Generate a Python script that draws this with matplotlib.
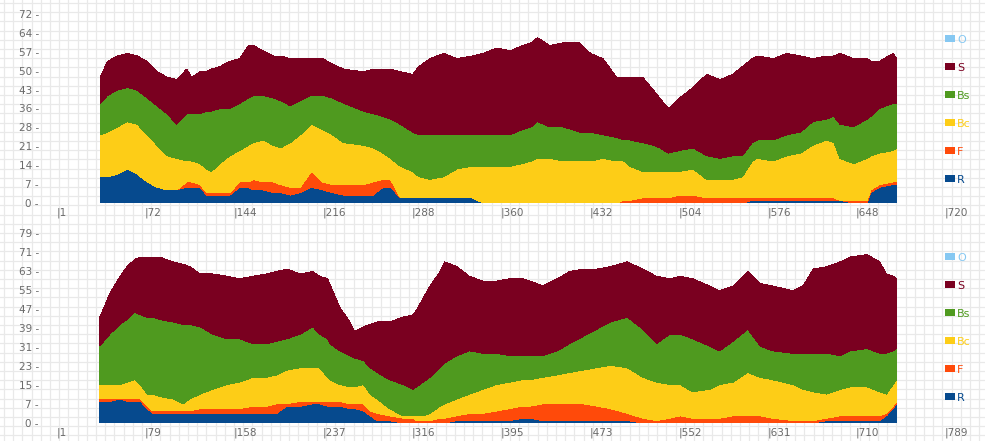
import numpy as np
import matplotlib
matplotlib.use("Agg")
import matplotlib.pyplot as plt
from matplotlib.patches import Patch

# series names and colours (legend order, top to bottom)
names = ["O", "S", "Bs", "Bc", "F", "R"]
colors = {"O": "#86c8f2", "S": "#7a0020", "Bs": "#4f9a1f",
          "Bc": "#fdcd17", "F": "#ff4a0a", "R": "#064a8e"}

# ---- top panel (1..720)
top_max_x, top_max_y = 720, 72
top_x = [36, 42, 50, 58, 66, 74, 82, 90, 98, 106,
         110, 117, 122, 126, 133, 141, 149, 156, 160, 168,
         176, 182, 190, 198, 207, 216, 224, 233, 249, 257,
         265, 271, 279, 289, 294, 303, 314, 325, 337, 346,
         357, 368, 378, 385, 390, 400, 411, 424, 433, 443,
         454, 460, 465, 475, 484, 489, 496, 505, 516, 527,
         538, 548, 556, 564, 568, 581, 592, 603, 613, 624,
         630, 635, 646, 657, 660, 667, 678, 681]
top_R = [10, 10, 11, 13, 11, 8, 6, 5, 5, 6,
         6, 6, 3, 3, 3, 3, 6, 6, 5, 5,
         4, 4, 3, 4, 6, 5, 4, 3, 3, 3,
         6, 6, 2, 2, 2, 2, 2, 2, 2, 0,
         0, 0, 0, 0, 0, 0, 0, 0, 0, 0,
         0, 0, 0, 0, 0, 0, 0, 0, 0, 0,
         0, 0, 0, 1, 1, 1, 1, 1, 1, 1,
         1, 1, 0, 0, 4, 6, 7, 7]
top_F = [0, 0, 0, 0, 0, 0, 0, 0, 0, 2,
         2, 1, 1, 1, 1, 1, 2, 2, 4, 3,
         4, 3, 3, 2, 6, 3, 3, 4, 4, 5,
         3, 3, 0, 0, 0, 0, 0, 0, 0, 0,
         0, 0, 0, 0, 0, 0, 0, 0, 0, 0,
         0, 1, 1, 2, 2, 2, 2, 3, 3, 2,
         2, 2, 2, 1, 1, 1, 1, 1, 1, 1,
         1, 0, 1, 1, 1, 1, 1, 1]
top_Bc = [16, 17, 18, 18, 19, 18, 16, 13, 12, 8,
          8, 8, 9, 8, 11, 14, 12, 14, 14, 16,
          14, 14, 17, 20, 18, 20, 19, 16, 15, 13,
          10, 8, 12, 10, 8, 7, 8, 11, 12, 14,
          14, 14, 15, 16, 17, 17, 16, 16, 16, 17,
          16, 15, 13, 10, 10, 10, 10, 9, 10, 7,
          7, 7, 8, 14, 15, 14, 16, 17, 20, 22,
          21, 16, 14, 16, 13, 12, 12, 13]
top_Bs = [12, 14, 14, 13, 13, 14, 15, 16, 13, 18,
          18, 19, 22, 23, 21, 18, 18, 18, 18, 17,
          18, 18, 14, 13, 11, 13, 14, 15, 13, 13,
          14, 15, 16, 15, 16, 17, 16, 13, 12, 12,
          12, 12, 13, 13, 14, 12, 13, 11, 11, 9,
          9, 8, 10, 11, 10, 9, 7, 8, 8, 9,
          8, 9, 8, 7, 7, 8, 8, 8, 9, 8,
          10, 13, 14, 15, 15, 17, 18, 17]
top_S = [10, 13, 13, 13, 13, 14, 13, 14, 17, 17,
         14, 16, 15, 16, 16, 18, 17, 20, 19, 17,
         16, 17, 18, 16, 14, 14, 13, 13, 15, 17,
         18, 19, 20, 22, 26, 29, 31, 29, 30, 31,
         33, 32, 32, 32, 32, 31, 32, 34, 30, 29,
         23, 24, 24, 25, 21, 19, 17, 20, 23, 31,
         30, 31, 34, 32, 32, 31, 31, 29, 24, 24,
         23, 27, 26, 23, 21, 18, 19, 17]

# ---- bottom panel (1..789)
bot_max_x, bot_max_y = 789, 79
bot_x = [39, 48, 57, 63, 70, 75, 81, 86, 92, 104,
         113, 119, 128, 139, 152, 163, 175, 187, 196, 205,
         217, 228, 234, 241, 243, 252, 261, 265, 273, 279,
         285, 296, 308, 317, 320, 326, 332, 341, 345, 356,
         367, 379, 391, 403, 414, 421, 432, 445, 456, 468,
         480, 492, 507, 521, 533, 545, 554, 565, 580, 589,
         601, 614, 625, 636, 654, 663, 672, 684, 696, 705,
         720, 731, 737, 743, 746]
bot_R = [9, 9, 10, 9, 9, 9, 6, 4, 4, 4,
         4, 4, 4, 4, 4, 4, 4, 4, 4, 7,
         7, 8, 8, 7, 7, 7, 6, 6, 5, 3,
         1, 1, 0, 0, 0, 0, 0, 0, 0, 1,
         1, 1, 1, 1, 2, 2, 1, 1, 1, 1,
         1, 1, 1, 0, 0, 0, 0, 0, 0, 0,
         0, 0, 0, 0, 0, 0, 0, 1, 1, 1,
         1, 1, 3, 6, 8]
bot_F = [1, 1, 0, 1, 1, 1, 1, 1, 1, 1,
         1, 1, 2, 2, 2, 2, 3, 3, 4, 1,
         2, 1, 1, 2, 2, 2, 2, 2, 3, 2,
         3, 2, 2, 2, 1, 1, 1, 2, 2, 2,
         3, 3, 4, 5, 5, 5, 7, 7, 7, 7,
         6, 5, 3, 2, 1, 2, 3, 2, 2, 2,
         3, 3, 3, 2, 1, 1, 1, 1, 2, 2,
         2, 2, 1, 1, 1]
bot_Bc = [6, 6, 6, 7, 8, 6, 5, 7, 6, 5,
          3, 5, 6, 8, 10, 11, 12, 12, 12, 14,
          14, 14, 14, 10, 9, 7, 7, 7, 8, 7,
          6, 3, 1, 1, 2, 2, 3, 5, 6, 7,
          8, 10, 11, 11, 11, 11, 11, 12, 13, 14,
          16, 18, 19, 17, 16, 14, 13, 11, 12, 14,
          14, 18, 16, 16, 15, 13, 12, 10, 11, 12,
          12, 10, 8, 9, 9]
bot_Bs = [16, 21, 25, 26, 28, 29, 32, 32, 32, 32,
          33, 31, 28, 23, 19, 18, 14, 14, 14, 13,
          14, 17, 14, 16, 15, 14, 13, 12, 10, 11,
          11, 12, 13, 11, 12, 14, 15, 16, 17, 18,
          18, 15, 13, 11, 10, 10, 9, 10, 12, 14,
          16, 18, 21, 20, 16, 21, 21, 22, 18, 14,
          17, 18, 13, 12, 13, 15, 16, 17, 14, 15,
          16, 16, 17, 14, 13]
bot_S = [12, 17, 20, 22, 22, 24, 25, 25, 26, 25,
         25, 24, 22, 25, 26, 25, 28, 29, 29, 29,
         25, 23, 24, 25, 25, 18, 14, 11, 14, 18,
         21, 24, 28, 31, 32, 35, 38, 40, 42, 37,
         31, 30, 30, 32, 32, 31, 29, 30, 30, 28,
         25, 23, 23, 25, 28, 23, 24, 25, 25, 25,
         23, 24, 26, 27, 26, 28, 35, 36, 39, 39,
         39, 38, 33, 31, 29]

W, H = 985, 441
fig = plt.figure(figsize=(W / 100, H / 100), dpi=100)

# light grid paper behind everything
bg = fig.add_axes([0, 0, 1, 1], zorder=-5)
bg.set_xlim(0, W)
bg.set_ylim(H, 0)
bg.set_xticks(np.arange(4, W, 9.2))
bg.set_yticks(np.arange(3, H, 9.2))
bg.grid(True, color="#e9e9e9", linewidth=0.9)
bg.tick_params(left=False, bottom=False, labelleft=False, labelbottom=False)
for s in bg.spines.values():
    s.set_visible(False)


def panel(rect, x, R, F, Bc, Bs, S, xmax, ymax, leg_top):
    ax = fig.add_axes(rect)
    ax.set_facecolor("none")
    O = [0] * len(x)
    ax.stackplot(x, R, F, Bc, Bs, S, O,
                 colors=[colors[k] for k in ["R", "F", "Bc", "Bs", "S", "O"]],
                 linewidth=0, antialiased=False)
    ax.set_xlim(1, xmax)
    ax.set_ylim(0, ymax)
    yt = [ymax * k / 10 for k in range(11)]
    ax.set_yticks(yt)
    ax.set_yticklabels([f"{int(t)} -" for t in yt])
    xt = [1] + [xmax * k / 10 for k in range(1, 11)]
    ax.set_xticks(xt)
    ax.set_xticklabels([f"|{int(t + 0.5)}" for t in xt], ha="left")
    ax.tick_params(length=0, labelsize=7.5, colors="#6a6a6a")
    ax.tick_params(axis="y", pad=13)
    ax.tick_params(axis="x", pad=3)
    for s in ax.spines.values():
        s.set_visible(False)
    handles = [Patch(facecolor=colors[n], edgecolor="none", label=n) for n in names]
    ax.legend(handles=handles, loc="upper left",
              bbox_to_anchor=(939 / W, 1 - leg_top / H),
              bbox_transform=fig.transFigure, frameon=False, fontsize=8,
              handlelength=0.95, handleheight=0.6, handletextpad=0.2,
              labelspacing=1.62, borderpad=0,
              labelcolor=[colors[n] for n in names])
    return ax


panel([57 / W, 1 - 203 / H, 888 / W, 189 / H],
      top_x, top_R, top_F, top_Bc, top_Bs, top_S, top_max_x, top_max_y, 29)
panel([57 / W, 1 - 423 / H, 888 / W, 190 / H],
      bot_x, bot_R, bot_F, bot_Bc, bot_Bs, bot_S, bot_max_x, bot_max_y, 247)

fig.savefig("out.png", dpi=100)
